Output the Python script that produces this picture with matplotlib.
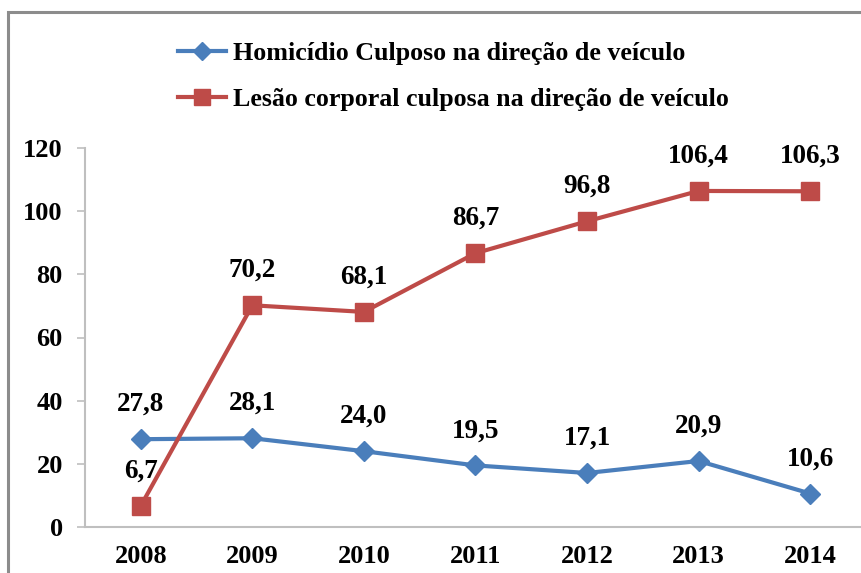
import matplotlib

matplotlib.use("Agg")
import matplotlib.pyplot as plt
from matplotlib.lines import Line2D
from matplotlib.patches import Rectangle

BLUE = "#4A7EBB"
RED = "#BE4B48"
AXIS = "#BFBFBF"

years = ["2008", "2009", "2010", "2011", "2012", "2013", "2014"]
homicidio = [27.8, 28.1, 24.0, 19.5, 17.1, 20.9, 10.6]
lesao = [6.7, 70.2, 68.1, 86.7, 96.8, 106.4, 106.3]
labels_homicidio = ["27,8", "28,1", "24,0", "19,5", "17,1", "20,9", "10,6"]
labels_lesao = ["6,7", "70,2", "68,1", "86,7", "96,8", "106,4", "106,3"]
yticks = [0, 20, 40, 60, 80, 100, 120]

plt.rcParams.update({
    "font.family": "serif",
    "font.serif": ["Liberation Serif", "DejaVu Serif"],
    "font.weight": "bold",
})

W, H = 862, 573
fig = plt.figure(figsize=(W / 100, H / 100), dpi=100)
fig.patch.set_facecolor("white")

# outer frame (right and bottom edges fall outside the picture)
fig.patches.append(Rectangle((8 / W, -0.05), 1.1, 1 - 12 / H + 0.05,
                             transform=fig.transFigure, fill=False,
                             edgecolor="#8C8C8C", linewidth=2.2))

ax = fig.add_axes([85 / W, 1 - 527 / H, (866 - 85) / W, (527 - 148) / H])
x = range(len(years))

ax.plot(x, homicidio, color=BLUE, linewidth=3, marker="D", markersize=10,
        markerfacecolor=BLUE, markeredgecolor=BLUE, zorder=3)
ax.plot(x, lesao, color=RED, linewidth=3, marker="s", markersize=13,
        markerfacecolor=RED, markeredgecolor=RED, zorder=3)

for vals, texts in [(homicidio, labels_homicidio), (lesao, labels_lesao)]:
    for xi, v, t in zip(x, vals, texts):
        ax.annotate(t, (xi, v), xytext=(0, 25), textcoords="offset points",
                    ha="center", va="center", fontsize=19.5, fontweight="bold")

ax.set_xlim(-0.5, len(years) - 0.5)
ax.set_ylim(0, 120)
ax.set_yticks(yticks)
ax.set_xticks(list(x))
ax.set_xticklabels(years)
ax.tick_params(axis="y", direction="out", length=6, width=1.2, color=AXIS,
               labelsize=19, pad=10)
ax.tick_params(axis="x", length=0, labelsize=19, pad=13)

for s in ["top", "right"]:
    ax.spines[s].set_visible(False)
for s in ["left", "bottom"]:
    ax.spines[s].set_color(AXIS)
    ax.spines[s].set_linewidth(1.5)

handles = [
    Line2D([0], [0], color=BLUE, linewidth=3, marker="D", markersize=9,
           label="Homicídio Culposo na direção de veículo"),
    Line2D([0], [0], color=RED, linewidth=3, marker="s", markersize=12,
           label="Lesão corporal culposa na direção de veículo"),
]
fig.legend(handles=handles, loc="upper left", bbox_to_anchor=(178 / W, 1 - 42 / H),
           frameon=False, prop={"size": 18.7, "weight": "bold"},
           handlelength=1.85, handletextpad=0.25, labelspacing=0.87,
           borderaxespad=0, borderpad=0)

fig.savefig("out.png", dpi=100)
